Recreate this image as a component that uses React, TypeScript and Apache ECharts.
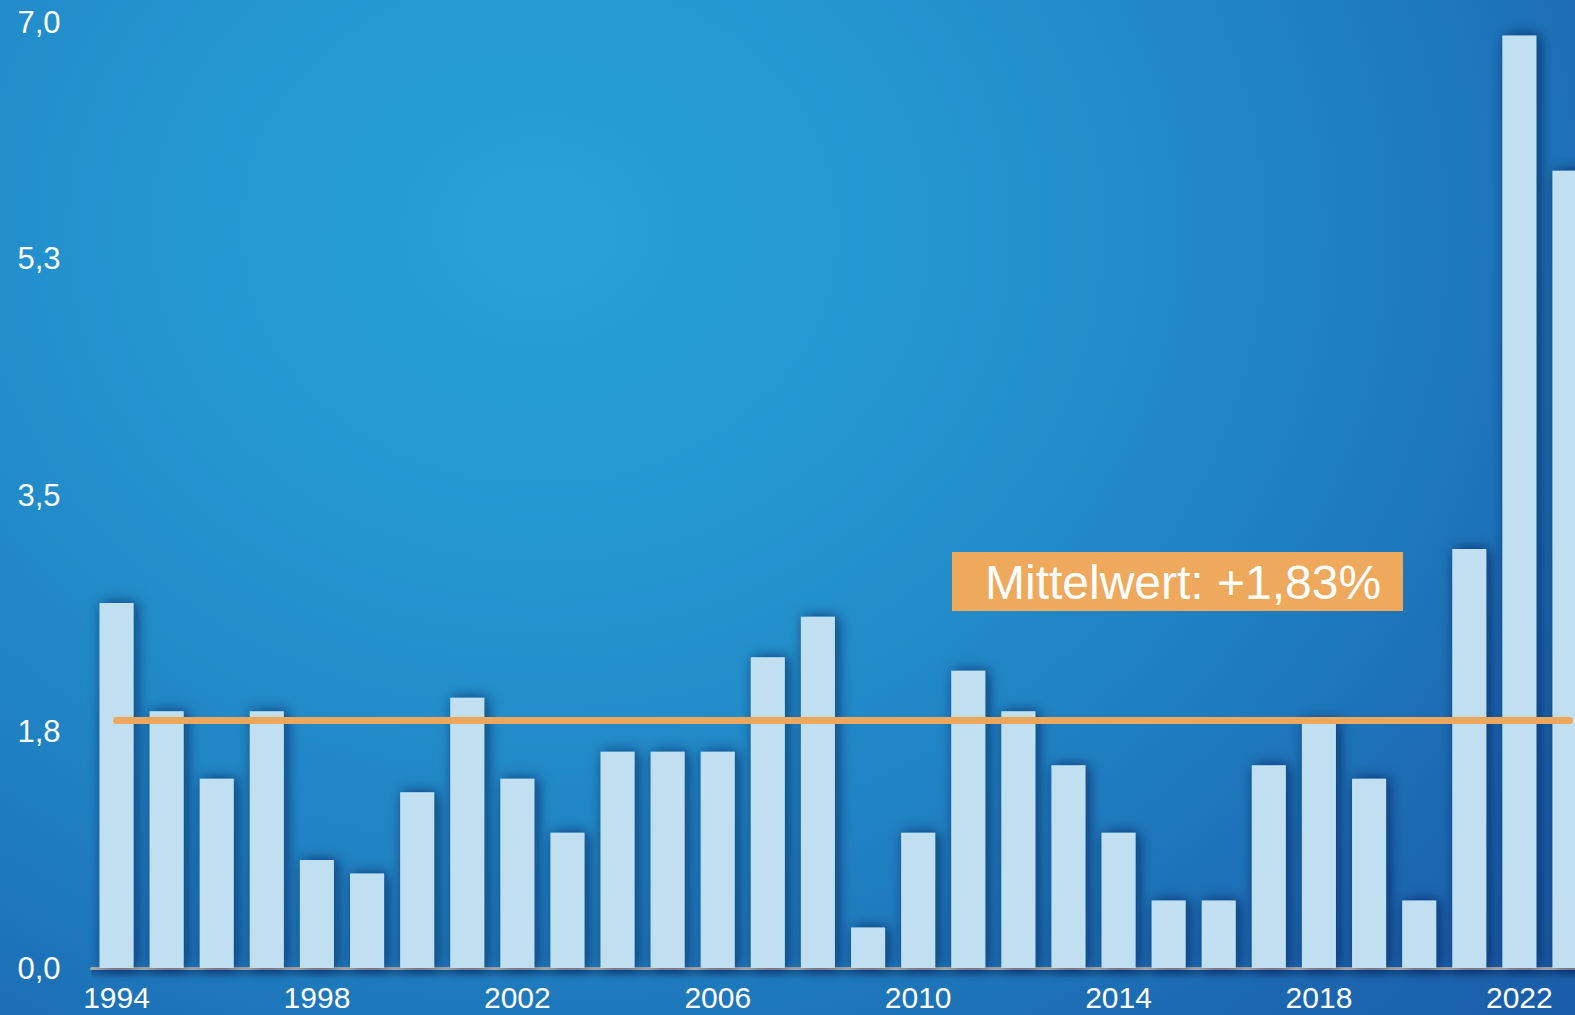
import React, { useEffect, useRef } from "react";
import * as echarts from "echarts";

const years = [
  "1994", "1995", "1996", "1997", "1998", "1999", "2000", "2001", "2002", "2003",
  "2004", "2005", "2006", "2007", "2008", "2009", "2010", "2011", "2012", "2013",
  "2014", "2015", "2016", "2017", "2018", "2019", "2020", "2021", "2022", "2023",
];
const inflation = [
  2.7, 1.9, 1.4, 1.9, 0.8, 0.7, 1.3, 2.0, 1.4, 1.0,
  1.6, 1.6, 1.6, 2.3, 2.6, 0.3, 1.0, 2.2, 1.9, 1.5,
  1.0, 0.5, 0.5, 1.5, 1.83, 1.4, 0.5, 3.1, 6.9, 5.9,
];
const meanValue = 1.83;
const meanLabel = "Mittelwert: +1,83%";
const yMax = 7;
const yInterval = 1.75;

const FONT = "'Liberation Sans', Arial, Helvetica, sans-serif";

export default function App() {
  const ref = useRef<HTMLDivElement>(null);

  useEffect(() => {
    document.body.style.margin = "0";
    document.body.style.overflow = "hidden";
    if (!ref.current) return;
    const chart = echarts.init(ref.current, undefined, { renderer: "svg" });
    chart.setOption({
      animation: false,
      backgroundColor: "transparent",
      grid: {
        left: 91.5,
        top: 22,
        width: 1503,
        height: 946,
        containLabel: false,
        outerBoundsMode: "none",
      },
      xAxis: {
        type: "category",
        data: years,
        boundaryGap: true,
        axisLine: {
          show: true,
          lineStyle: { color: "#a9abad", width: 3 },
        },
        axisTick: { show: false },
        axisLabel: {
          interval: 3,
          color: "#ffffff",
          fontSize: 30,
          fontFamily: FONT,
          margin: 14,
        },
        splitLine: { show: false },
      },
      yAxis: {
        type: "value",
        min: 0,
        max: yMax,
        interval: yInterval,
        axisLine: { show: false },
        axisTick: { show: false },
        splitLine: { show: false },
        axisLabel: {
          color: "#ffffff",
          fontSize: 31,
          fontFamily: FONT,
          margin: 31,
          formatter: (v: number) => v.toFixed(1).replace(".", ","),
        },
      },
      series: [
        {
          type: "bar",
          data: inflation,
          barWidth: 34,
          z: 2,
          itemStyle: {
            color: "#c0e0f1",
            shadowBlur: 14,
            shadowColor: "rgba(0,20,60,0.65)",
            shadowOffsetX: 3,
            shadowOffsetY: 0,
          },
          markLine: {
            silent: true,
            symbol: ["none", "none"],
            label: { show: false },
            z: 5,
            lineStyle: {
              color: "#eda75c",
              width: 7,
              type: "solid",
              cap: "round",
              opacity: 1,
            },
            data: [
              [
                { coord: [years[0], meanValue] },
                { coord: [years[years.length - 1], meanValue] },
              ],
            ],
          },
        },
      ],
      graphic: [
        {
          type: "rect",
          left: 91.5,
          top: 970,
          z: 1,
          silent: true,
          shape: { width: 1490, height: 9 },
          style: {
            fill: new echarts.graphic.LinearGradient(0, 0, 0, 1, [
              { offset: 0, color: "rgba(0,20,60,0.35)" },
              { offset: 1, color: "rgba(0,20,60,0)" },
            ]),
          },
        },
        {
          type: "group",
          left: 952,
          top: 552,
          children: [
            {
              type: "rect",
              shape: { x: 0, y: 0, width: 451, height: 59 },
              style: { fill: "#eea95d" },
            },
            {
              type: "text",
              x: 33,
              y: 30,
              style: {
                text: meanLabel,
                fill: "#ffffff",
                font: `48px ${FONT}`,
                textVerticalAlign: "middle",
                verticalAlign: "middle",
              },
            },
          ],
        },
      ],
    });
    return () => chart.dispose();
  }, []);

  return (
    <div
      ref={ref}
      style={{
        width: 1575,
        height: 1015,
        background:
          "radial-gradient(ellipse 1350px 1150px at 540px 230px, #28a0d8 0%, #2396d0 30%, #1f80c1 60%, #1b68b1 85%, #1a5ea9 100%)",
      }}
    />
  );
}
